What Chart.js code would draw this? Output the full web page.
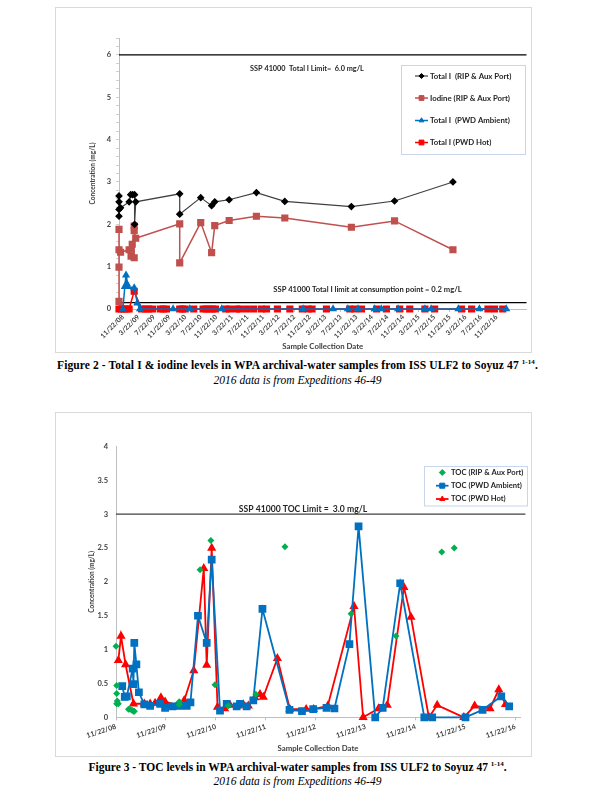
<!DOCTYPE html>
<html><head><meta charset="utf-8">
<script src="https://cdn.jsdelivr.net/npm/chart.js@4/dist/chart.umd.min.js"></script>
<style>
body{margin:0;background:#fff;width:595px;height:807px;position:relative;overflow:hidden}
.frame{position:absolute;border:1px solid #d9d9d9;box-sizing:border-box}
canvas{position:absolute}
.cap{position:absolute;left:0;width:595px;text-align:center;font-family:"Liberation Serif","Times New Roman",serif;color:#000;white-space:nowrap}
.b{font-weight:bold;font-size:11.5px}
.i{font-style:italic;font-size:11.5px}
sup{font-size:7px;line-height:0}
</style></head><body>
<div class="frame" style="left:55px;top:7px;width:477px;height:346px"></div>
<canvas id="c1" width="477" height="346" style="left:55px;top:7px"></canvas>
<div class="cap b" style="top:359px;letter-spacing:0.1px">Figure 2 - Total I &amp; iodine levels in WPA archival-water samples from ISS ULF2 to Soyuz 47 <sup>1-14</sup>.</div>
<div class="cap i" style="top:374px">2016 data is from Expeditions 46-49</div>
<div class="frame" style="left:55px;top:412px;width:477px;height:345px"></div>
<canvas id="c2" width="477" height="345" style="left:55px;top:412px"></canvas>
<div class="cap b" style="top:761px">Figure 3 - TOC levels in WPA archival-water samples from ISS ULF2 to Soyuz 47 <sup>1-14</sup>.</div>
<div class="cap i" style="top:775px">2016 data is from Expeditions 46-49</div>
<script>
// ---------- Figure 2 data (x = months after 11/22/08) ----------
const fig2_xTickMonths = [0,4,8,12,16,20,24,28,32,36,40,44,48,52,56,60,64,68,72,76,80,84,88,92,96];
const fig2_xTickLabels = ['11/22/08','3/22/09','7/22/09','11/22/09','3/22/10','7/22/10','11/22/10','3/22/11','7/22/11','11/22/11','3/22/12','7/22/12','11/22/12','3/22/13','7/22/13','11/22/13','3/22/14','7/22/14','11/22/14','3/22/15','7/22/15','11/22/15','3/22/16','7/22/16','11/22/16'];
const totalIRip_months = [-1,-1,-1,-1,-0.6,1.6,2.0,2.5,3.0,3.0,3.3,14.6,14.6,20.0,22.8,23.6,27.3,34.3,41.6,58.7,69.8,84.8];
const totalIRip_values = [2.67,2.53,2.19,2.35,2.39,2.53,2.70,2.70,2.70,2.00,2.53,2.72,2.24,2.63,2.44,2.53,2.58,2.75,2.54,2.42,2.55,3.00];
const iodineRip_months = [-1,-1,-1,-1,-0.6,1.6,2.1,2.4,2.9,2.9,2.9,3.3,14.6,14.6,20.0,22.8,23.6,27.3,34.3,41.6,58.7,69.8,84.8];
const iodineRip_values = [0.18,0.99,1.88,1.40,1.34,1.40,1.25,1.53,1.21,1.96,1.85,1.67,2.01,1.09,2.04,1.33,1.97,2.09,2.19,2.15,1.93,2.08,1.40];
const totalIAmb_months = [0.0,0.5,0.8,1.0,1.2,2.9,3.7,4.4,12.9,17.2,25.4,46.3,54.0,57.8,60.4,64.7,66.4,70.7,77.6,79.2,86.2,91.6,98.5];
const totalIAmb_values = [0,0.53,0.80,0.60,0.53,0.50,0.14,0,0,0,0,0,0,0,0,0,0,0,0,0,0,0,0];
const totalIHot_months = [-1,-0.4,0.3,1.0,1.6,2.9,4.8,5.8,6.6,7.6,9.6,10.4,11.2,14.6,15.3,16.0,18.2,20.6,21.4,22.2,23.0,23.8,26.4,27.4,29.2,30.0,31.8,33.6,35.6,36.9,39.7,42.9,46.1,47.6,48.6,52.3,58.3,59.6,61.3,65.2,67.7,71.1,73.7,77.6,80.1,87.0,89.6,93.8,95.5,97.6];
const totalIHot_values = [0,0,0,0,0,0.42,0,0,0,0,0,0,0,0,0,0,0,0,0,0,0,0,0,0,0,0,0,0,0,0,0,0,0,0,0,0,0,0,0,0,0,0,0,0,0,0,0,0,0,0];
const fig2_limitMonths = [-1,103.7];
const fig2_totalLimit = [6.0,6.0];
const fig2_consumptionLimit = [0.15,0.15];

// ---------- Figure 3 data ----------
const fig3_xTickMonths = [0,12,24,36,48,60,72,84,96];
const fig3_xTickLabels = ['11/22/08','11/22/09','11/22/10','11/22/11','11/22/12','11/22/13','11/22/14','11/22/15','11/22/16'];
const fig3_yTickLabels = ['0','0.5','1','1.5','2','2.5','3','3.5','4'];
const tocRip_months = [0,0.16,0.16,0.3,0.16,0.56,3.0,3.4,3.9,4.2,4.4,15.2,15.2,20.2,22.8,23.8,27.0,33.6,40.6,56.5,67.3,78.3,81.3];
const tocRip_values = [1.05,0.47,0.35,0.24,0.20,0.20,0.12,0.12,0.10,0.09,0.09,0.23,0.19,2.18,2.61,0.48,0.17,0.34,2.52,1.53,1.20,2.44,2.50];
const tocAmb_months = [1.5,2.1,2.6,4.0,4.2,4.4,4.9,5.5,6.8,8.2,10.6,11.8,13.6,15.2,17.0,17.9,19.7,21.8,23.0,25.0,26.6,29.0,29.8,31.4,33.0,35.2,41.7,44.7,47.4,50.6,52.5,56.1,58.3,62.3,64.1,68.3,74.1,76.0,84.0,88.1,92.6,94.5];
const tocAmb_values = [0.46,0.30,0.31,0.72,0.49,1.10,0.78,0.37,0.19,0.17,0.20,0.14,0.16,0.17,0.17,0.22,1.50,1.10,2.33,0.10,0.20,0.16,0.20,0.16,0.25,1.60,0.11,0.09,0.12,0.14,0.13,1.08,2.82,0,0.14,1.98,0,0,0,0.11,0.31,0.16];
const tocHot_months = [0.56,1.2,2.3,4.2,6.8,8.2,9.4,10.8,11.8,15.4,16.4,18.7,21.1,21.8,23.0,24.4,26.1,27.4,29.4,30.6,31.8,33.4,34.6,35.4,38.8,41.8,45.7,47.5,50.9,57.2,59.4,63.1,65.2,69.2,70.9,75.2,77.2,83.6,86.2,89.9,92.0,93.6];
const tocHot_values = [0.84,1.20,0.78,0.20,0.20,0.20,0.21,0.29,0.23,0.17,0.25,0.69,2.20,0.77,2.50,0.15,0.13,0.18,0.17,0.19,0.17,0.29,0.34,0.30,0.87,0.12,0.12,0.12,0.17,1.64,0,0.13,0.18,1.92,1.48,0,0.18,0,0.17,0.13,0.41,0.19];
const fig3_limitMonths = [0,98.4];
const fig3_tocLimit = [3.0,3.0];

function pts(xs, ys){ return xs.map((x,i)=>({x:x,y:ys[i]})); }

Chart.defaults.font.family = 'Lato';
Chart.defaults.font.weight = 'bold';
Chart.defaults.font.size = 7;
Chart.defaults.color = '#404040';

function legendPlugin(id, box, rows, lineX0, lineX1, textX, fontSize){
  return {id:id, afterDraw(chart){
    const ctx = chart.ctx; ctx.save();
    ctx.strokeStyle = '#c9d5ea'; ctx.lineWidth = 1;
    ctx.strokeRect(box.x+0.5, box.y+0.5, box.w, box.h);
    rows.forEach(r=>{
      const ds = chart.data.datasets[r.ds];
      if (ds.showLine !== false){
        ctx.strokeStyle = ds.borderColor; ctx.lineWidth = ds.borderWidth;
        ctx.beginPath(); ctx.moveTo(lineX0, r.y); ctx.lineTo(lineX1, r.y); ctx.stroke();
      }
      ctx.fillStyle = ds.pointBackgroundColor; ctx.strokeStyle = ds.pointBorderColor; ctx.lineWidth = 1;
      Chart.helpers.drawPoint(ctx, {pointStyle: ds.pointStyle, radius: ds.pointRadius*0.85, rotation: 0, borderWidth: 1}, (lineX0+lineX1)/2, r.y);
      ctx.fillStyle = '#262626';
      ctx.font = 'bold ' + fontSize + 'px Lato';
      ctx.textAlign = 'left'; ctx.textBaseline = 'middle';
      ctx.fillText(ds.label, textX, r.y);
    });
    ctx.restore();
  }};
}
function notePlugin(id, notes){
  return {id:id, afterDraw(chart){
    const ctx = chart.ctx; ctx.save();
    notes.forEach(n=>{
      ctx.fillStyle = '#262626'; ctx.font = 'bold ' + n.size + 'px Lato';
      ctx.textAlign = 'center'; ctx.textBaseline = 'middle';
      ctx.fillText(n.text, n.x, n.y);
    });
    ctx.restore();
  }};
}

// ---------------- Figure 2 ----------------
new Chart(document.getElementById('c1'), {
  type: 'line',
  data: { datasets: [
    {label:'Total I  (RIP & Aux Port)', data: pts(totalIRip_months, totalIRip_values), borderColor:'#404040', borderWidth:1.2, pointStyle:'rectRot', pointRadius:3, pointBackgroundColor:'#000', pointBorderColor:'#000', clip:false},
    {label:'Iodine (RIP & Aux Port)', data: pts(iodineRip_months, iodineRip_values), borderColor:'#c0504d', borderWidth:1.5, pointStyle:'rect', pointRadius:4, pointBackgroundColor:'#c0504d', pointBorderColor:'#c0504d', clip:false},
    {label:'Total I  (PWD Ambient)', data: pts(totalIAmb_months, totalIAmb_values), borderColor:'#0070c0', borderWidth:1.5, pointStyle:'triangle', pointRadius:3.2, pointBackgroundColor:'#0070c0', pointBorderColor:'#0070c0', clip:false},
    {label:'Total I (PWD Hot)', data: pts(totalIHot_months, totalIHot_values), borderColor:'#ff0000', borderWidth:1.5, pointStyle:'rect', pointRadius:4, pointBackgroundColor:'#ff0000', pointBorderColor:'#ff0000', clip:false},
    {label:'limit6', data: pts(fig2_limitMonths, fig2_totalLimit), borderColor:'#000', borderWidth:1.3, pointRadius:0, clip:false},
    {label:'limit02', data: pts(fig2_limitMonths, fig2_consumptionLimit), borderColor:'#000', borderWidth:1.3, pointRadius:0, clip:false}
  ]},
  options: {
    responsive:false, animation:false, devicePixelRatio:1,
    layout:{padding:{left:30, right:5, top:31, bottom:0}},
    plugins:{legend:{display:false}, tooltip:{enabled:false}},
    elements:{line:{tension:0}, point:{borderWidth:1}},
    scales:{
      x:{type:'linear', min:-1, max:103.7,
        afterBuildTicks: s => { s.ticks = fig2_xTickMonths.map(v=>({value:v})); },
        afterFit: s => { s.height = 44; },
        ticks:{autoSkip:false, minRotation:45, maxRotation:45, padding:1, color:'#404040', font:{size:6.8},
          callback:(v,i)=>fig2_xTickLabels[i]},
        grid:{display:true, drawOnChartArea:false, drawTicks:true, tickLength:3, color:'#bfbfbf'},
        border:{display:true, color:'#bfbfbf'},
        title:{display:true, text:'Sample Collection Date', font:{size:7.8}, color:'#404040', padding:{top:0,bottom:2}}
      },
      y:{type:'linear', min:0, max:6.4,
        afterFit: s => { s.width = 34; },
        ticks:{stepSize:0.2, maxTicksLimit:100, autoSkip:false, padding:5, color:'#404040', font:{size:7.5},
          callback: v => Math.abs(v-Math.round(v))<1e-6 ? String(Math.round(v)) : ''},
        grid:{display:true, drawOnChartArea:false, drawTicks:true, tickLength:3, color:'#d0d0d0'},
        border:{display:true, color:'#bfbfbf'},
        title:{display:true, text:'Concentration (mg/L)', font:{size:6.5}, color:'#404040', padding:{top:4.5,bottom:0}}
      }
    }
  },
  plugins:[
    legendPlugin('lg1', {x:346, y:58, w:124, h:89}, [{ds:0,y:69},{ds:1,y:91},{ds:2,y:113.5},{ds:3,y:135.5}], 360, 373, 375, 7.8),
    notePlugin('nt1', [{text:'SSP 41000  Total I Limit=  6.0 mg/L', x:252, y:61.5, size:7.3},
                       {text:'SSP 41000 Total I limit at consumption point = 0.2 mg/L', x:312.5, y:283, size:7.6}])
  ]
});

// ---------------- Figure 3 ----------------
new Chart(document.getElementById('c2'), {
  type: 'line',
  data: { datasets: [
    {label:'TOC (RIP & Aux Port)', data: pts(tocRip_months, tocRip_values), showLine:false, borderColor:'#00b050', borderWidth:0, pointStyle:'rectRot', pointRadius:3.5, pointBackgroundColor:'#00b050', pointBorderColor:'#00b050', clip:false},
    {label:'TOC (PWD Ambient)', data: pts(tocAmb_months, tocAmb_values), borderColor:'#0070c0', borderWidth:1.8, pointStyle:'rect', pointRadius:4.2, pointBackgroundColor:'#0070c0', pointBorderColor:'#0070c0', clip:false},
    {label:'TOC (PWD Hot)', data: pts(tocHot_months, tocHot_values), borderColor:'#ff0000', borderWidth:1.8, pointStyle:'triangle', pointRadius:3.5, pointBackgroundColor:'#ff0000', pointBorderColor:'#ff0000', clip:false},
    {label:'limit3', data: pts(fig3_limitMonths, fig3_tocLimit), borderColor:'#404040', borderWidth:1.2, pointRadius:0, clip:false}
  ]},
  options: {
    responsive:false, animation:false, devicePixelRatio:1,
    layout:{padding:{left:30, right:12, top:34.5, bottom:0}},
    plugins:{legend:{display:false}, tooltip:{enabled:false}},
    elements:{line:{tension:0}, point:{borderWidth:1}},
    scales:{
      x:{type:'linear', min:0, max:97.1,
        afterBuildTicks: s => { s.ticks = fig3_xTickMonths.map(v=>({value:v})); },
        afterFit: s => { s.height = 39.7; },
        ticks:{autoSkip:false, minRotation:18, maxRotation:18, padding:2, color:'#404040', font:{size:7},
          callback:(v,i)=>fig3_xTickLabels[i]},
        grid:{display:true, drawOnChartArea:false, drawTicks:true, tickLength:3, color:'#bfbfbf'},
        border:{display:true, color:'#bfbfbf'},
        title:{display:true, text:'Sample Collection Date', font:{size:7.8}, color:'#404040', padding:{top:0,bottom:3.5}}
      },
      y:{type:'linear', min:0, max:4,
        afterFit: s => { s.width = 31; },
        ticks:{stepSize:0.5, autoSkip:false, padding:8, color:'#404040', font:{size:7.5},
          callback:(v,i)=>fig3_yTickLabels[i]},
        grid:{display:false, drawTicks:false},
        border:{display:true, color:'#bfbfbf'},
        title:{display:true, text:'Concentration (mg/L)', font:{size:6.5}, color:'#404040', padding:{top:3.5,bottom:0}}
      }
    }
  },
  plugins:[
    legendPlugin('lg2', {x:369, y:54, w:103, h:39.5}, [{ds:0,y:60.5},{ds:1,y:73.7},{ds:2,y:87}], 381, 393.5, 396, 7.6),
    notePlugin('nt2', [{text:'SSP 41000 TOC Limit =  3.0 mg/L', x:248, y:97.5, size:8.6}])
  ]
});
</script>
</body></html>
